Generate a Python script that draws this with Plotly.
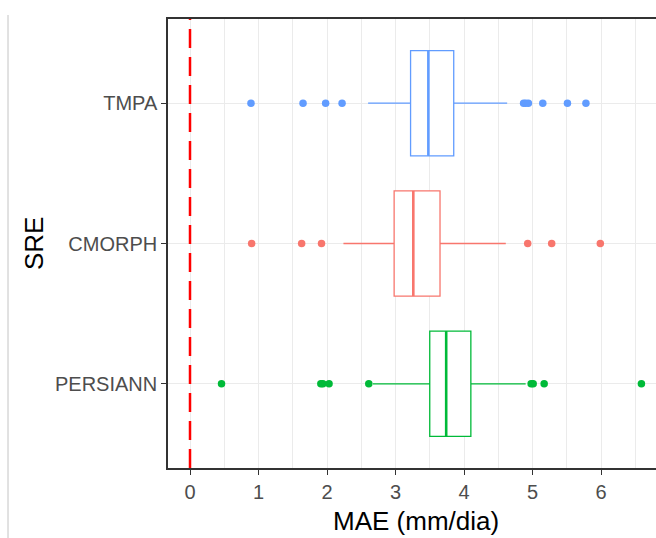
import plotly.graph_objects as go

# ---- data ----
categories = ["PERSIANN", "CMORPH", "TMPA"]          # bottom -> top
colors = ["#00BA38", "#F8766D", "#619CFF"]
q1 = [3.50, 2.98, 3.22]
median = [3.74, 3.26, 3.48]
q3 = [4.10, 3.65, 3.85]
lowerfence = [2.67, 2.24, 2.60]
upperfence = [4.90, 4.61, 4.63]
outliers_persiann = [0.46, 1.91, 1.94, 2.03, 2.61, 4.98, 5.01, 5.17, 6.59]
outliers_cmorph = [0.90, 1.63, 1.92, 4.93, 5.28, 5.99]
outliers_tmpa = [0.89, 1.65, 1.98, 2.22, 4.87, 4.90, 4.94, 5.15, 5.51, 5.78]
outliers = [outliers_persiann, outliers_cmorph, outliers_tmpa]
x_ticks = [0, 1, 2, 3, 4, 5, 6]
ref_line_x = 0

# ---- layout constants ----
W, H = 656, 538
ML, MR, MT, MB = 168, 0, 19, 70
PW, PH = W - ML - MR, H - MT - MB
BOX_W = 0.75
FONT = "Liberation Sans, Arial, sans-serif"

fig = go.Figure()
positions = list(range(1, len(categories) + 1))

for i, cat in enumerate(categories):
    pos = positions[i]
    c = colors[i]
    fig.add_trace(go.Box(
        y=[pos], q1=[q1[i]], median=[median[i]], q3=[q3[i]],
        lowerfence=[lowerfence[i]], upperfence=[upperfence[i]],
        orientation="h", width=BOX_W, boxpoints=False,
        fillcolor="white", line=dict(color=c, width=1.3),
        whiskerwidth=0, showlegend=False, name=cat,
    ))
    # thicker median line (ggplot style)
    fig.add_trace(go.Scatter(
        x=[median[i], median[i]], y=[pos - BOX_W / 2, pos + BOX_W / 2],
        mode="lines", line=dict(color=c, width=2.6), showlegend=False,
        hoverinfo="skip",
    ))
    fig.add_trace(go.Scatter(
        x=outliers[i], y=[pos] * len(outliers[i]), mode="markers",
        marker=dict(color=c, size=7.5), showlegend=False,
    ))

# dashed reference line
fig.add_shape(type="line", xref="x", yref="paper", x0=ref_line_x, x1=ref_line_x,
              y0=0, y1=1, line=dict(color="#FF0000", width=2.5, dash="19px,9px"),
              layer="above")
# thin grey line at far left (image border)
lx = (8 - ML) / PW
fig.add_shape(type="line", xref="paper", yref="paper", x0=lx, x1=lx,
              y0=(PH + MT - 15) / PH, y1=(PH - (H - MT)) / PH,
              line=dict(color="#C4C4C4", width=1))

x0 = -22 / 68.5
x1 = x0 + PW / 68.5

fig.update_layout(
    width=W, height=H,
    margin=dict(l=ML, r=MR, t=MT, b=MB, pad=0),
    paper_bgcolor="white", plot_bgcolor="white",
    boxmode="overlay",
    font=dict(family=FONT),
    xaxis=dict(
        range=[x0, x1], tickvals=x_ticks, ticktext=[str(v) for v in x_ticks],
        showgrid=True, gridcolor="#EBEBEB", gridwidth=1.2,
        minor=dict(dtick=0.5, tick0=0, showgrid=True, gridcolor="#EBEBEB", gridwidth=0.8),
        zeroline=False, showline=True, linecolor="#333333", linewidth=1.5, mirror=True,
        ticks="outside", ticklen=5, tickcolor="#333333", tickwidth=1,
        tickfont=dict(size=20, color="#4D4D4D", family=FONT),
    ),
    yaxis=dict(
        range=[0.4, 3.6], tickvals=positions, ticktext=categories,
        showgrid=True, gridcolor="#EBEBEB", gridwidth=1.2,
        zeroline=False, showline=True, linecolor="#333333", linewidth=1.5, mirror=False,
        ticks="outside", ticklen=5, tickcolor="#333333", tickwidth=1,
        tickfont=dict(size=20, color="#4D4D4D", family=FONT),
    ),
    annotations=[
        dict(text="MAE (mm/dia)", xref="paper", yref="paper",
             x=(416 - ML) / PW, y=(PH + MT - 521) / PH, xanchor="center", yanchor="middle",
             showarrow=False, font=dict(size=26, color="black", family=FONT)),
        dict(text="SRE", xref="paper", yref="paper",
             x=(34 - ML) / PW, y=(PH + MT - 244) / PH, xanchor="center", yanchor="middle",
             textangle=-90, showarrow=False, font=dict(size=26, color="black", family=FONT)),
    ],
)

fig.write_html("out.html")
